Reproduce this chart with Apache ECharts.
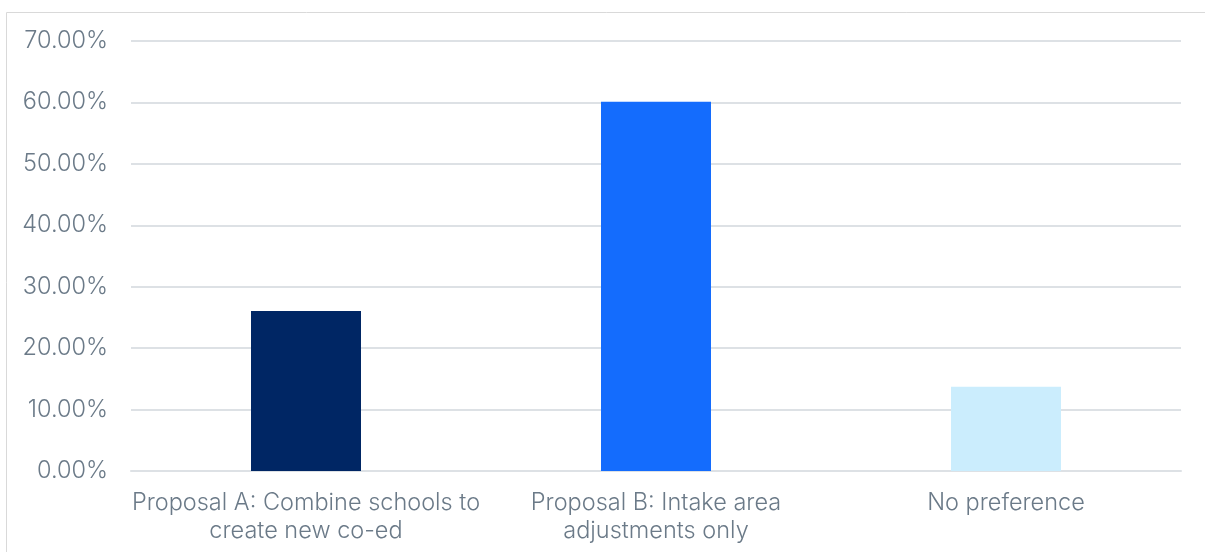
<!DOCTYPE html>
<html>
<head>
<meta charset="utf-8">
<script src="https://cdn.jsdelivr.net/npm/echarts@6/dist/echarts.min.js"></script>
<style>
  html, body { margin: 0; padding: 0; background: #fff; }
  #chart { width: 1205px; height: 552px; }
</style>
</head>
<body>
<div id="chart"></div>
<script>
// data
const categories = ['Proposal A: Combine schools to\ncreate new co-ed', 'Proposal B: Intake area\nadjustments only', 'No preference']
const shares = [26.05, 60.1, 13.7]
const barColors = ['#002664', '#146cfd', '#cbedfd']

const chart = echarts.init(document.getElementById('chart'))
const textColor = '#6b7a88'
const fontFamily = 'Inter, "Noto Sans", sans-serif'

chart.setOption({
  animation: false,
  grid: {
    left: 131,
    right: 24,
    top: 41,
    bottom: 81
  },
  graphic: [{
    type: 'rect',
    shape: { x: 6.5, y: 12.5, width: 1400, height: 700 },
    style: { fill: 'none', stroke: '#d9d9d9', lineWidth: 1 },
    silent: true
  }],
  xAxis: {
    type: 'category',
    data: categories,
    axisTick: { show: false },
    axisLine: { show: true, lineStyle: { color: '#dde1e5', width: 2 } },
    axisLabel: {
      color: textColor,
      fontSize: 23.5,
      fontWeight: 300,
      fontFamily: fontFamily,
      lineHeight: 28,
      margin: 18,
      interval: 0
    }
  },
  yAxis: {
    type: 'value',
    min: 0,
    max: 70,
    interval: 10,
    axisLine: { show: false },
    axisTick: { show: false },
    splitLine: { lineStyle: { color: '#dde1e5', width: 2 } },
    axisLabel: {
      color: textColor,
      fontSize: 23.5,
      fontWeight: 300,
      fontFamily: fontFamily,
      margin: 23,
      formatter: v => v.toFixed(2) + '%'
    }
  },
  series: [{
    type: 'bar',
    barWidth: 110,
    data: shares.map((v, i) => ({
      value: v,
      itemStyle: { color: barColors[i] }
    }))
  }]
})
</script>
</body>
</html>
